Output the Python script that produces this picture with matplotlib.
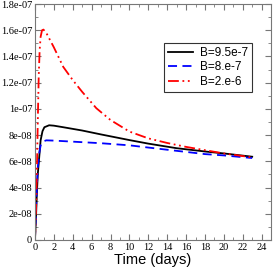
import matplotlib
matplotlib.use("Agg")
import matplotlib.pyplot as plt
from matplotlib.ticker import MultipleLocator, FuncFormatter

# data (time in days, value)
t_black = [0, 0.1, 0.2, 0.3, 0.45, 0.6, 0.8, 1.0, 1.5, 2, 3, 5, 7, 10, 12, 15, 18, 20, 23]
v_black = [0, 1.5e-8, 3.5e-8, 5.0e-8, 6.3e-8, 7.6e-8, 8.3e-8, 8.6e-8, 8.75e-8, 8.72e-8,
           8.6e-8, 8.35e-8, 8.05e-8, 7.62e-8, 7.35e-8, 7.0e-8, 6.75e-8, 6.6e-8, 6.35e-8]

t_blue = [0, 0.1, 0.2, 0.3, 0.45, 0.6, 0.8, 1.2, 2, 4, 7, 10, 12, 15, 18, 20, 23]
v_blue = [0, 2.0e-8, 4.0e-8, 5.5e-8, 6.6e-8, 7.2e-8, 7.5e-8, 7.6e-8, 7.58e-8, 7.5e-8,
          7.38e-8, 7.22e-8, 7.05e-8, 6.8e-8, 6.55e-8, 6.45e-8, 6.25e-8]

t_red = [0, 0.1, 0.2, 0.3, 0.4, 0.5, 0.6, 0.75, 0.9, 1.2, 1.6, 2, 3, 4, 5, 6.5, 8, 10,
         12, 14, 16, 18, 20, 23]
v_red = [0, 2.0e-8, 5.0e-8, 9.0e-8, 1.25e-7, 1.45e-7, 1.55e-7, 1.6e-7, 1.605e-7, 1.58e-7,
         1.525e-7, 1.47e-7, 1.32e-7, 1.22e-7, 1.13e-7, 1.005e-7, 9.15e-8, 8.27e-8,
         7.75e-8, 7.4e-8, 7.1e-8, 6.85e-8, 6.6e-8, 6.3e-8]

labels = ["B=9.5e-7", "B=8.e-7", "B=2.e-6"]


def ylab(v, pos):
    if abs(v) < 1e-12:
        return "0"
    s = "%.1e" % v
    m, e = s.split("e")
    if m.endswith(".0"):
        m = m[:-2]
    return m + "e" + e


fig = plt.figure(figsize=(2.73, 2.69), dpi=100)
ax = fig.add_axes([0.128, 0.108, 0.865, 0.877])

ax.plot(t_black, v_black, color="black", lw=1.3, label=labels[0])
ax.plot(t_blue, v_blue, color="blue", lw=1.3, ls=(0, (5, 3)), label=labels[1])
ax.plot(t_red, v_red, color="red", lw=1.3, ls=(0, (6, 2, 1, 2, 1, 2)), label=labels[2])

ax.set_xlim(0, 25)
ax.set_ylim(0, 1.8e-7)
ax.xaxis.set_major_locator(MultipleLocator(2))
ax.xaxis.set_minor_locator(MultipleLocator(1))
ax.yaxis.set_major_locator(MultipleLocator(2e-8))
ax.yaxis.set_minor_locator(MultipleLocator(1e-8))
ax.yaxis.set_major_formatter(FuncFormatter(ylab))

ax.tick_params(which="both", direction="in", top=True, right=True, color="#777777",
               pad=2, labelsize=7.5)
ax.tick_params(which="major", length=4)
ax.tick_params(which="minor", length=2)
for lab in ax.get_xticklabels() + ax.get_yticklabels():
    lab.set_family("Liberation Serif")
for sp in ax.spines.values():
    sp.set_color("#777777")

ax.set_xlabel("Time (days)", family="Liberation Sans", fontsize=10.5, labelpad=1)

leg = ax.legend(loc="upper right", bbox_to_anchor=(0.92, 0.835), frameon=True,
                fancybox=False, prop={"family": "Liberation Sans", "size": 8.5},
                handlelength=2.1, handletextpad=0.6, borderpad=0.35,
                labelspacing=0.2, borderaxespad=0)
leg.get_frame().set_edgecolor("black")
leg.get_frame().set_linewidth(0.8)

fig.savefig("out.png", dpi=100)
